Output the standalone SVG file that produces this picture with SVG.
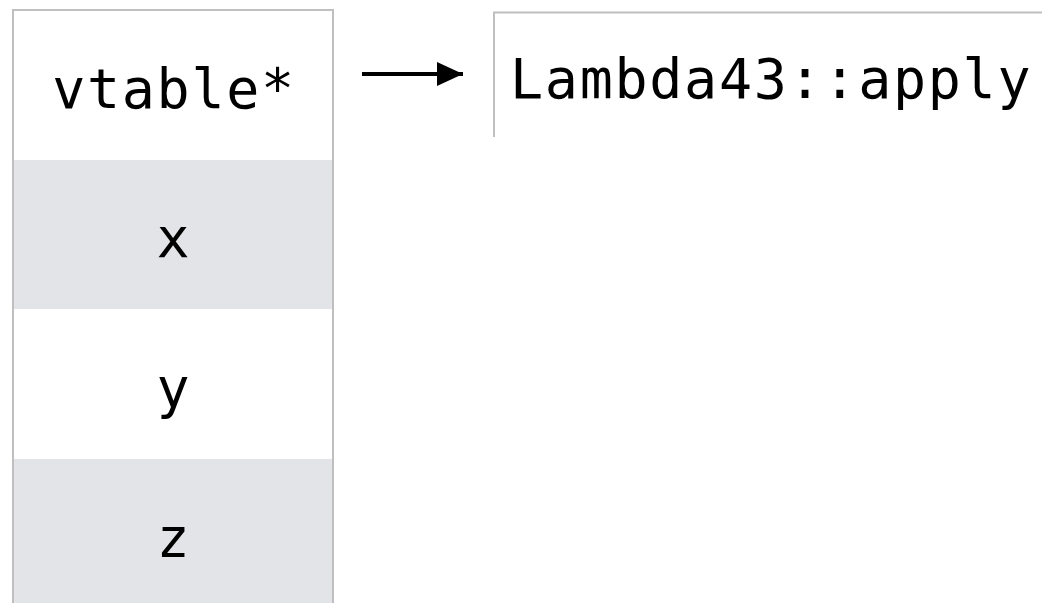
<svg xmlns="http://www.w3.org/2000/svg" width="1042" height="603" viewBox="0 0 1042 603">
<defs>
<style>
.cell{stroke:none}
.w{fill:#ffffff}
.g{fill:#e3e4e8}
.frame{fill:none;stroke:#bfbfbf;stroke-width:2}
.t{font-family:"DejaVu Sans Mono",monospace;font-size:55px;fill:#000;letter-spacing:1.7px}
</style>
<marker id="ah" markerWidth="26" markerHeight="24" refX="26" refY="12" orient="auto" markerUnits="userSpaceOnUse" viewBox="0 0 26 24">
<path d="M0,0 L26,12 L0,24 Z" fill="#000"/>
</marker>
</defs>
<rect width="1042" height="603" fill="#fff"/>
<g id="struct">
<g id="row-vtable"><rect class="cell w" x="13" y="10" width="320" height="150"/><text class="t" x="174" y="108" text-anchor="middle">vtable*</text></g>
<g id="row-x"><rect class="cell g" x="13" y="160" width="320" height="149"/><text class="t" x="174" y="257" text-anchor="middle">x</text></g>
<g id="row-y"><rect class="cell w" x="13" y="309" width="320" height="150"/><text class="t" x="174" y="407" text-anchor="middle">y</text></g>
<g id="row-z"><rect class="cell g" x="13" y="459" width="320" height="150"/><text class="t" x="174" y="557" text-anchor="middle">z</text></g>
<path class="frame" d="M13,610 V10 H333 V610"/>
</g>
<g id="vtable">
<path class="frame" d="M494,137 V12.5 H1050"/>
<text class="t" x="510" y="98">Lambda43::apply</text>
</g>
<g id="connectors">
<line x1="362" y1="74" x2="463" y2="74" stroke="#000" stroke-width="4" marker-end="url(#ah)"/>
</g>
</svg>
